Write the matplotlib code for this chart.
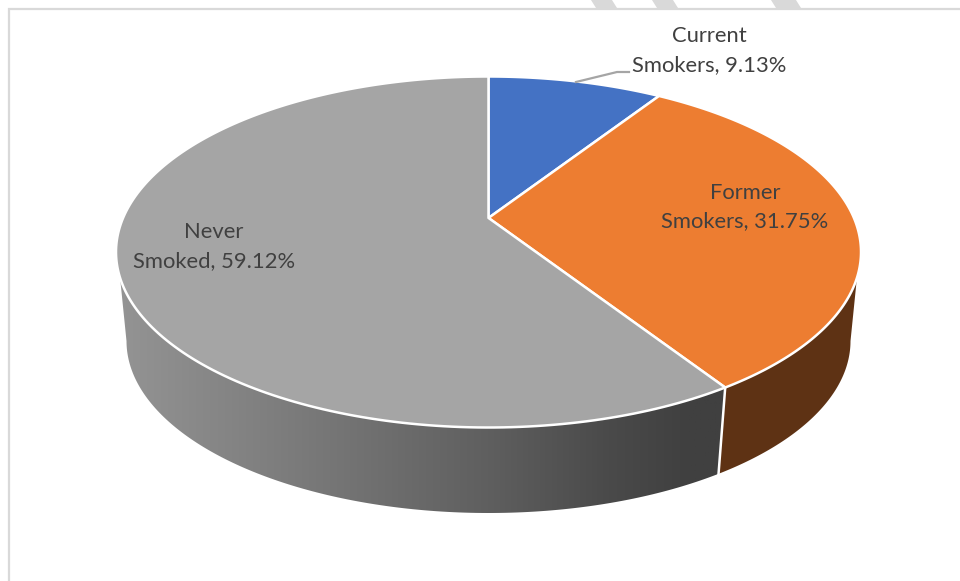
import numpy as np
import matplotlib.pyplot as plt
from matplotlib.colors import LinearSegmentedColormap
from matplotlib.patches import Polygon

# Data
labels = ['Current\nSmokers, 9.13%', 'Former\nSmokers, 31.75%', 'Never\nSmoked, 59.12%']
shares = [9.13, 31.75, 59.12]
top_colors = ['#4472C4', '#ED7D31', '#A5A5A5']
label_pos = [(709, 50.5), (745, 207), (214, 246.5)]

# Pie geometry in pixels (top disc and bottom disc of the 3D pie)
cx = 488.5
top_cy, top_rx, top_ry = 252.0, 372.5, 175.5
bot_cy, bot_rx, bot_ry = 341.0, 362.0, 172.0
persp = 0.194   # how far the pie centre sits above the ellipse centre
top_vis = (109.4, 250.6)   # part of the rim that shows at the top disc
bot_vis = (101.2, 258.8)


def project(theta, cy, rx, ry):
    # circle -> ellipse with perspective, theta clockwise from 12 o'clock
    t = np.radians(theta)
    u, v = np.sin(t), np.cos(t)
    d = 1 + persp * v
    x = cx + rx * u * np.sqrt(1 - persp ** 2) / d
    y = cy - ry * (v + persp) / d
    return x, y


def wall(start, end):
    a = np.linspace(max(start, top_vis[0]), min(end, top_vis[1]), 150)
    b = np.linspace(max(start, bot_vis[0]), min(end, bot_vis[1]), 150)
    xt, yt = project(a, top_cy, top_rx, top_ry)
    xb, yb = project(b, bot_cy, bot_rx, bot_ry)
    return np.r_[xt, xb[::-1]], np.r_[yt, yb[::-1]]


fig = plt.figure(figsize=(9.6, 5.81), dpi=100)
ax = fig.add_axes([0, 0, 1, 1])
ax.set_xlim(0, 960)
ax.set_ylim(581, 0)
ax.axis('off')

# Page frame and the bit of watermark above it
ax.plot([960, 8.5, 8.5], [9, 9, 581], color='#D9D9D9', lw=1.6, solid_joinstyle='miter')
for x0, x1 in [(591, 612), (652, 673), (771, 796)]:
    ax.add_patch(Polygon([(x0, 0), (x1, 0), (x1 + 5, 8), (x0 + 5, 8)], fc='#D9D9D9', ec='none'))

edges = np.cumsum([0] + shares) * 3.6

# Side walls
x, y = wall(edges[1], edges[2])
ax.fill(x, y, color='#5E3214', lw=0)

x, y = wall(edges[2], edges[3])
wall_patch = Polygon(np.c_[x, y], fc='none', ec='none')
ax.add_patch(wall_patch)
wall_cmap = LinearSegmentedColormap.from_list(
    'wall', [(0, '#949494'), (0.36, '#757575'), (0.61, '#5F5F5F'),
             (0.81, '#4A4A4A'), (0.94, '#404040'), (1, '#404040')])
im = ax.imshow(np.linspace(0, 1, 256)[None, :], cmap=wall_cmap, extent=[118, 725, 520, 270],
               aspect='auto', zorder=1)
im.set_clip_path(wall_patch)
ax.set_xlim(0, 960)
ax.set_ylim(581, 0)

# White line between the two walls
xa, ya = project(edges[2], top_cy, top_rx, top_ry)
xb, yb = project(edges[2], bot_cy, bot_rx, bot_ry)
ax.plot([xa, xb], [ya, yb], color='white', lw=1.8, zorder=2)

# Top face
for i in range(len(shares)):
    a = np.linspace(edges[i], edges[i + 1], 200)
    xs, ys = project(a, top_cy, top_rx, top_ry)
    xs = np.r_[cx, xs]
    ys = np.r_[top_cy - top_ry * persp, ys]
    ax.fill(xs, ys, facecolor=top_colors[i], edgecolor='white', lw=1.8, zorder=3,
            joinstyle='round')

# Leader line for the first label
ax.plot([576, 617, 629], [82, 72, 72], color='#A5A5A5', lw=1.6, zorder=4)

for lab, (lx, ly) in zip(labels, label_pos):
    ax.text(lx, ly, lab, ha='center', va='center', fontsize=15.8, family='Lato',
            color='#404040', linespacing=1.55, zorder=5)

fig.savefig('out.png', dpi=100)
